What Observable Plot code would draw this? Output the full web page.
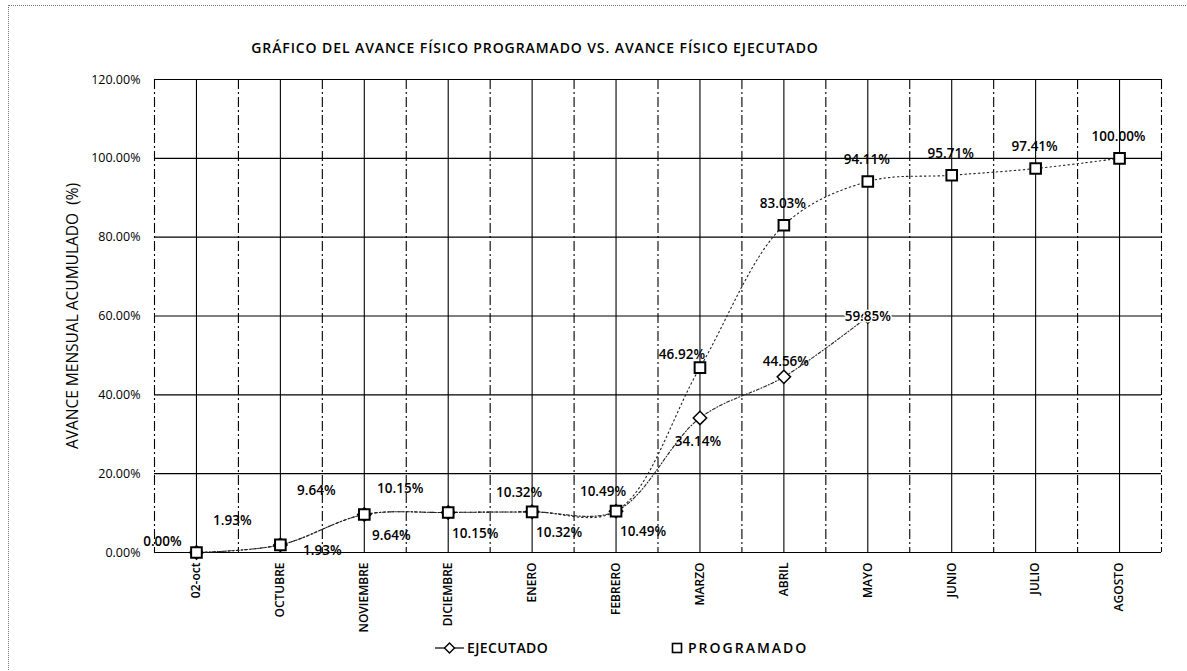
<!DOCTYPE html>
<html>
<head>
<meta charset="utf-8">
<script src="https://cdn.jsdelivr.net/npm/d3@7"></script>
<script src="https://cdn.jsdelivr.net/npm/@observablehq/plot@0.6"></script>
<style>
  html, body { margin: 0; padding: 0; background: #fff; }
  body { width: 1187px; height: 671px; position: relative; overflow: hidden; font-family: "Open Sans", sans-serif; color: #000; }
  #frame { position: absolute; left: 8px; top: 5px; width: 1179px; height: 666px; border-top: 1px dotted #777; border-left: 1px dotted #777; pointer-events: none; }
  #title { height: 66px; position: relative; }
  #title span { position: absolute; left: 0; width: 1070px; top: 38px; text-align: center; font-size: 14px; font-weight: 600; line-height: 20px; letter-spacing: 0.9px; }
  #chart svg { display: block; }
  #legend { position: relative; height: 32px; font-size: 14px; font-weight: 600; }
  #legend .item { position: absolute; top: 0; height: 32px; line-height: 32px; }
  #legend svg { position: absolute; top: 9px; }
</style>
</head>
<body>
<div id="frame"></div>
<div id="title"><span>GRÁFICO DEL AVANCE FÍSICO PROGRAMADO VS. AVANCE FÍSICO EJECUTADO</span></div>
<div id="chart"></div>
<div id="legend">
  <svg style="left:435px" width="30" height="14"><line x1="0" y1="7" x2="29" y2="7" stroke="#000" stroke-width="1.2"/><path d="M14.5,2 L19.5,7 L14.5,12 L9.5,7 Z" fill="#fff" stroke="#000" stroke-width="1.4"/></svg>
  <span class="item" style="left:467px; letter-spacing:0.4px">EJECUTADO</span>
  <svg style="left:671px" width="12" height="14"><rect x="1.5" y="2.5" width="9" height="9" fill="#fff" stroke="#000" stroke-width="1.6"/></svg>
  <span class="item" style="left:688px; letter-spacing:2px">PROGRAMADO</span>
</div>
<script>
const categories = ["02-oct", "OCTUBRE", "NOVIEMBRE", "DICIEMBRE", "ENERO", "FEBRERO", "MARZO", "ABRIL", "MAYO", "JUNIO", "JULIO", "AGOSTO"];
const programado = [0.00, 1.93, 9.64, 10.15, 10.32, 10.49, 46.92, 83.03, 94.11, 95.71, 97.41, 100.00];
const ejecutado = [0.00, 1.93, 9.64, 10.15, 10.32, 10.49, 34.14, 44.56, 59.85];
const yTicks = [0, 20, 40, 60, 80, 100, 120];
const yTitle = "AVANCE MENSUAL ACUMULADO  (%)";

const pct = v => v.toFixed(2) + "%";
const prog = programado.map((v, i) => ({i, v, label: pct(v)}));
const ejec = ejecutado.map((v, i) => ({i, v, label: pct(v)}));
const idx = categories.map((c, i) => i);
const bounds = d3.range(-0.5, categories.length, 1);

const labelStyle = {fontSize: 13.5, fontWeight: 600, fill: "#000"};
const P = (f, dx, dy, extra = {}) => Plot.text(prog.filter(f), {x: "i", y: "v", text: "label", dx, dy, ...labelStyle, ...extra});
const E = (f, dx, dy, extra = {}) => Plot.text(ejec.filter(f), {x: "i", y: "v", text: "label", dx, dy, ...labelStyle, ...extra});

const chart = Plot.plot({
  width: 1187,
  height: 566,
  marginLeft: 154,
  marginRight: 26,
  marginTop: 13,
  marginBottom: 80,
  style: {fontFamily: "'Open Sans', sans-serif", fontSize: "11px", color: "#000", background: "transparent", overflow: "visible"},
  x: {domain: [-0.5, categories.length - 0.5], axis: null},
  y: {domain: [0, 120], axis: null},
  marks: [
    Plot.ruleY(yTicks, {stroke: "#000", strokeWidth: 1.2}),
    Plot.ruleX(idx, {stroke: "#000", strokeWidth: 1.1}),
    Plot.ruleX(bounds, {stroke: "#000", strokeWidth: 1.1, strokeDasharray: "10,3,2,3"}),
    Plot.axisY({ticks: yTicks, tickFormat: d => d.toFixed(2) + "%", tickSize: 0, tickPadding: 14, fontSize: 12.5, letterSpacing: "0.4px", label: null}),
    Plot.axisX({ticks: idx, tickFormat: i => categories[i], tickRotate: -90, tickSize: 0, tickPadding: 10, fontSize: 12, fontWeight: 600, letterSpacing: "0.4px", label: null}),
    Plot.text([yTitle], {frameAnchor: "left", textAnchor: "middle", dx: -81, rotate: -90, fontSize: 15.5, letterSpacing: "1.2px", fontWeight: 500}),
    Plot.line(ejec, {x: "i", y: "v", curve: "catmull-rom", stroke: "#222", strokeWidth: 1.1, strokeDasharray: "3,2,1,2"}),
    Plot.line(prog, {x: "i", y: "v", curve: "catmull-rom", stroke: "#222", strokeWidth: 1.1, strokeDasharray: "1.5,3"}),
    Plot.dot(ejec, {x: "i", y: "v", symbol: "diamond2", r: 6, fill: "#fff", stroke: "#000", strokeWidth: 1.5}),
    Plot.dot(prog, {x: "i", y: "v", symbol: "square", r: 6, fill: "#fff", stroke: "#000", strokeWidth: 2}),
    // programado labels (above)
    P(d => d.i === 0, -34, -11),
    P(d => d.i >= 1 && d.i <= 3, -48, -24),
    P(d => d.i === 4 || d.i === 5, -13, -19),
    P(d => d.i === 6, -18, -13),
    P(d => d.i >= 7, -1, -22),
    // ejecutado labels
    E(d => d.i === 1, 42, 6),
    E(d => d.i >= 2 && d.i <= 5, 27, 21),
    E(d => d.i === 6, -2, 24),
    E(d => d.i === 7, 2, -15),
    E(d => d.i === 8, 0, 0, {stroke: "#fff", strokeWidth: 3, paintOrder: "stroke"})
  ]
});
document.getElementById("chart").append(chart);
</script>
</body>
</html>
